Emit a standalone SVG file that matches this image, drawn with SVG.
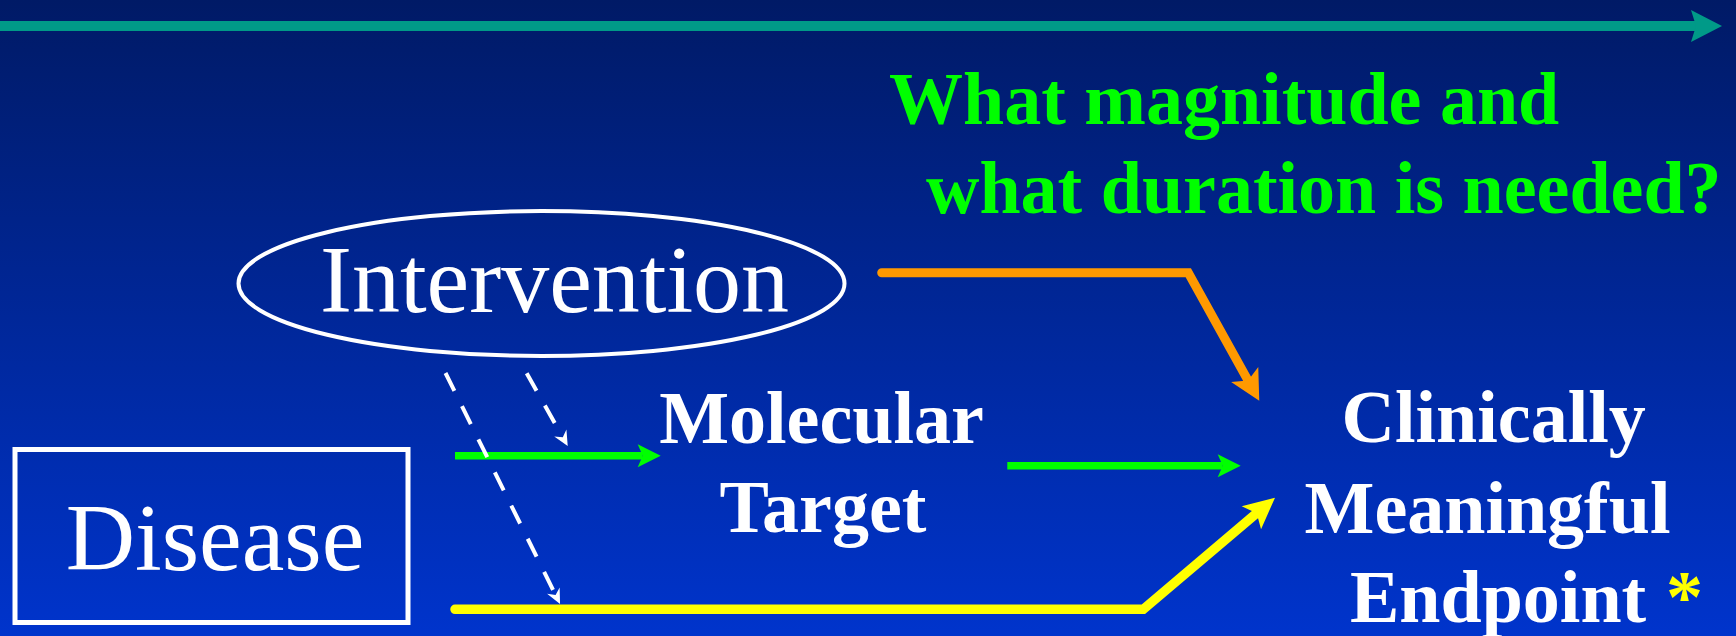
<svg xmlns="http://www.w3.org/2000/svg" width="1736" height="636" viewBox="0 0 1736 636">
  <defs>
    <linearGradient id="bg" x1="0" y1="0" x2="0" y2="1">
      <stop offset="0" stop-color="#001a66"/>
      <stop offset="1" stop-color="#0034cc"/>
    </linearGradient>
    <marker id="hTeal" markerUnits="userSpaceOnUse" markerWidth="31" markerHeight="32" refX="5" refY="16" orient="auto" overflow="visible">
      <path d="M0,0 L31,16 L0,32 L5,16 Z" fill="#009a88"/>
    </marker>
    <marker id="hOrange" markerUnits="userSpaceOnUse" markerWidth="30" markerHeight="31" refX="7" refY="15.5" orient="auto" overflow="visible">
      <path d="M0,0 L30,15.5 L0,31 L7,15.5 Z" fill="#ff9900"/>
    </marker>
    <marker id="hYellow" markerUnits="userSpaceOnUse" markerWidth="31" markerHeight="30" refX="7" refY="15" orient="auto" overflow="visible">
      <path d="M0,0 L31,15 L0,30 L7,15 Z" fill="#ffff00"/>
    </marker>
    <marker id="hGreen" markerUnits="userSpaceOnUse" markerWidth="23" markerHeight="23" refX="5" refY="11.5" orient="auto" overflow="visible">
      <path d="M0,0 L23,11.5 L0,23 L5,11.5 Z" fill="#00ff00"/>
    </marker>
    <marker id="hWhite" markerUnits="userSpaceOnUse" markerWidth="15" markerHeight="14" refX="5" refY="7" orient="auto" overflow="visible">
      <path d="M0,0 L15,7 L0,14 L5,7 Z" fill="#ffffff"/>
    </marker>
  </defs>
  <style>
    .serif { font-family: "Liberation Serif", "Times New Roman", serif; }
    .big { font-size: 96px; fill: #ffffff; text-anchor: middle; }
    .bold { font-size: 74px; font-weight: bold; fill: #ffffff; }
    .q { font-size: 74px; font-weight: bold; fill: #00ff00; }
    .ln { fill: none; }
  </style>
  <rect x="0" y="0" width="1736" height="636" fill="url(#bg)"/>

  <g id="connectors">
    <line class="ln" x1="0" y1="26" x2="1696" y2="26" stroke="#009a88" stroke-width="10" marker-end="url(#hTeal)"/>
    <polyline class="ln" points="881.7,272.7 1188.3,272.7 1248.1,380.6" stroke="#ff9900" stroke-width="9" stroke-linecap="round" stroke-linejoin="miter" marker-end="url(#hOrange)"/>
    <polyline class="ln" points="455,609.3 1143.3,609.3 1256.7,513.2" stroke="#ffff00" stroke-width="9.5" stroke-linecap="round" stroke-linejoin="miter" marker-end="url(#hYellow)"/>
    <line class="ln" x1="455" y1="455.7" x2="642.7" y2="455.7" stroke="#00ff00" stroke-width="7.5" marker-end="url(#hGreen)"/>
    <line class="ln" x1="1007.3" y1="465.7" x2="1222.7" y2="465.7" stroke="#00ff00" stroke-width="7.5" marker-end="url(#hGreen)"/>
    <line class="ln" x1="445.5" y1="373" x2="555.6" y2="595" stroke="#ffffff" stroke-width="4" stroke-dasharray="20 17" marker-end="url(#hWhite)"/>
    <line class="ln" x1="526.7" y1="373.3" x2="562.8" y2="437.3" stroke="#ffffff" stroke-width="4" stroke-dasharray="20 17" marker-end="url(#hWhite)"/>
  </g>

  <g id="question">
    <text class="serif q" x="889" y="124">What magnitude and</text>
    <text class="serif q" x="926" y="213">what duration is needed?</text>
  </g>

  <g id="intervention">
    <ellipse cx="541.5" cy="283.5" rx="303" ry="72.5" fill="none" stroke="#ffffff" stroke-width="4"/>
    <text class="serif big" x="554.5" y="312">Intervention</text>
  </g>

  <g id="disease">
    <rect x="15" y="449.5" width="393" height="173" fill="none" stroke="#ffffff" stroke-width="5"/>
    <text class="serif big" x="215" y="570">Disease</text>
  </g>

  <g id="molecular-target">
    <text class="serif bold" x="821.5" y="443" text-anchor="middle">Molecular</text>
    <text class="serif bold" x="823" y="531.7" text-anchor="middle">Target</text>
  </g>

  <g id="endpoint">
    <text class="serif bold" x="1493.7" y="441.7" text-anchor="middle">Clinically</text>
    <text class="serif bold" x="1487.5" y="532.7" text-anchor="middle">Meaningful</text>
    <text class="serif bold" x="1350" y="621.7">Endpoint<tspan x="1666" fill="#ffff00">*</tspan></text>
  </g>
</svg>
